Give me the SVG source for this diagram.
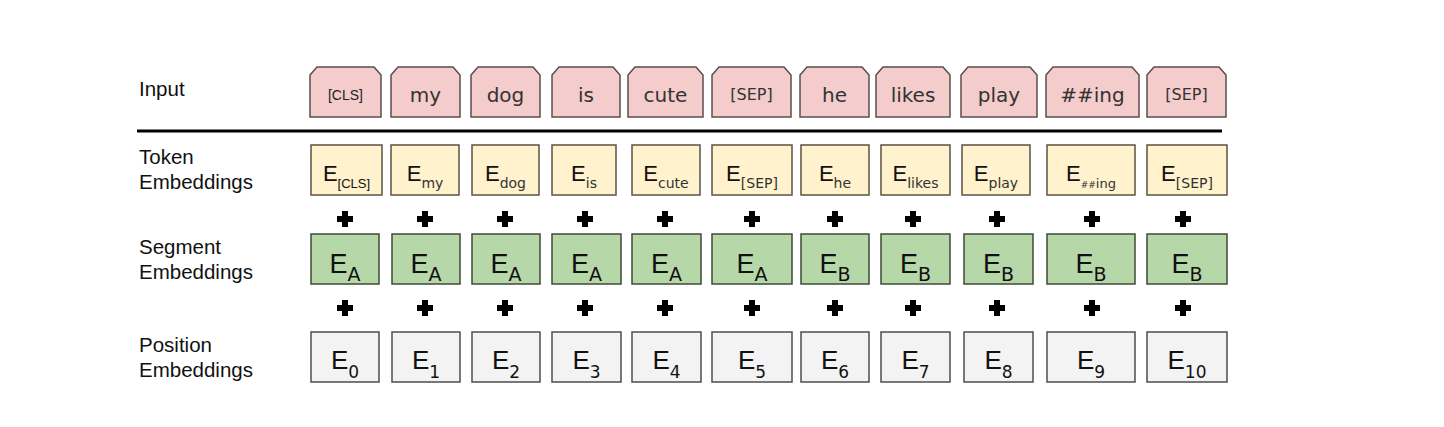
<svg xmlns="http://www.w3.org/2000/svg" width="1444" height="427" viewBox="0 0 1444 427">
<style>
.lbl{font-family:"Liberation Sans",Arial,sans-serif;font-size:20.5px;fill:#111}
.inp{fill:#f4cccc;stroke:#5a4d4d;stroke-width:1.5}
.tok{fill:#fff2cc;stroke:#5a5246;stroke-width:1.5}
.seg{fill:#b6d7a8;stroke:#3d4a38;stroke-width:1.5}
.pos{fill:#f3f3f3;stroke:#4d4d4d;stroke-width:1.5}
.w{font-family:"DejaVu Sans",Verdana,sans-serif;font-size:20px;fill:#333;text-anchor:middle}
.ws{font-family:"DejaVu Sans",Verdana,sans-serif;font-size:16px;fill:#333;text-anchor:middle}
.wc{font-family:"Liberation Sans",Arial,sans-serif;font-size:14px;fill:#222;text-anchor:middle}
.te{font-family:"Liberation Sans",Arial,sans-serif;font-size:22px;fill:#111;text-anchor:middle}
.ts{font-family:"DejaVu Sans",Verdana,sans-serif;font-size:14px;fill:#333}
.tc{font-family:"Liberation Sans",Arial,sans-serif;font-size:13px;fill:#111}
.se{font-family:"Liberation Sans",Arial,sans-serif;font-size:27px;fill:#111;text-anchor:middle}
.ss{font-family:"DejaVu Sans",Verdana,sans-serif;font-size:19px;fill:#111}
.pe{font-family:"Liberation Sans",Arial,sans-serif;font-size:26px;fill:#111;text-anchor:middle}
.ps{font-family:"DejaVu Sans",Verdana,sans-serif;font-size:17px;fill:#111}
</style>
<defs>
<path id="plus" d="M-3,-8h6v5h5v6h-5v5h-6v-5h-5v-6h5z" fill="#000"/>
</defs>
<rect width="1444" height="427" fill="#fff"/>

<g id="labels">
<text class="lbl" x="139" y="96">Input</text>
<text class="lbl" x="139" y="164">Token</text>
<text class="lbl" x="139" y="189">Embeddings</text>
<text class="lbl" x="139" y="254">Segment</text>
<text class="lbl" x="139" y="279">Embeddings</text>
<text class="lbl" x="139" y="352">Position</text>
<text class="lbl" x="139" y="377">Embeddings</text>
</g>

<g id="connectors">
<line x1="137" y1="131" x2="1222" y2="131" stroke="#000" stroke-width="3"/>
<use href="#plus" x="345" y="219"/><use href="#plus" x="425" y="219"/><use href="#plus" x="505" y="219"/><use href="#plus" x="585" y="219"/><use href="#plus" x="665" y="219"/><use href="#plus" x="752" y="219"/><use href="#plus" x="835" y="219"/><use href="#plus" x="913" y="219"/><use href="#plus" x="997" y="219"/><use href="#plus" x="1092" y="219"/><use href="#plus" x="1183" y="219"/>
<use href="#plus" x="345" y="308"/><use href="#plus" x="425" y="308"/><use href="#plus" x="505" y="308"/><use href="#plus" x="585" y="308"/><use href="#plus" x="665" y="308"/><use href="#plus" x="752" y="308"/><use href="#plus" x="835" y="308"/><use href="#plus" x="913" y="308"/><use href="#plus" x="997" y="308"/><use href="#plus" x="1092" y="308"/><use href="#plus" x="1183" y="308"/>
</g>

<!-- Input row -->
<g id="in0"><path class="inp" d="M310,117V75L317,67H374L381,75V117Z"/><text class="wc" x="345.5" y="100">[CLS]</text></g>
<g id="in1"><path class="inp" d="M391,117V75L398,67H453L460,75V117Z"/><text class="w" x="425.5" y="102">my</text></g>
<g id="in2"><path class="inp" d="M471,117V75L478,67H533L540,75V117Z"/><text class="w" x="505.5" y="102">dog</text></g>
<g id="in3"><path class="inp" d="M552,117V75L559,67H613L620,75V117Z"/><text class="w" x="586" y="102">is</text></g>
<g id="in4"><path class="inp" d="M628,117V75L635,67H696L703,75V117Z"/><text class="w" x="665.5" y="102">cute</text></g>
<g id="in5"><path class="inp" d="M712,117V75L719,67H784L791,75V117Z"/><text class="ws" x="751.5" y="100">[SEP]</text></g>
<g id="in6"><path class="inp" d="M800,117V75L807,67H862L869,75V117Z"/><text class="w" x="834.5" y="102">he</text></g>
<g id="in7"><path class="inp" d="M876,117V75L883,67H943L950,75V117Z"/><text class="w" x="913" y="102">likes</text></g>
<g id="in8"><path class="inp" d="M961,117V75L968,67H1030L1037,75V117Z"/><text class="w" x="999" y="102">play</text></g>
<g id="in9"><path class="inp" d="M1046,117V75L1053,67H1132L1139,75V117Z"/><text class="w" x="1092.5" y="102">##ing</text></g>
<g id="in10"><path class="inp" d="M1147,117V75L1154,67H1219L1226,75V117Z"/><text class="ws" x="1186.5" y="100">[SEP]</text></g>

<!-- Token row -->
<g id="tok0"><rect class="tok" x="311" y="145" width="71" height="50"/><text class="te" x="346.5" y="181">E<tspan class="tc" dy="7">[CLS]</tspan></text></g>
<g id="tok1"><rect class="tok" x="391" y="145" width="68" height="50"/><text class="te" x="425" y="181">E<tspan class="ts" dy="7">my</tspan></text></g>
<g id="tok2"><rect class="tok" x="472" y="145" width="67" height="50"/><text class="te" x="505.5" y="181">E<tspan class="ts" dy="7">dog</tspan></text></g>
<g id="tok3"><rect class="tok" x="552" y="145" width="64" height="50"/><text class="te" x="584" y="181">E<tspan class="ts" dy="7">is</tspan></text></g>
<g id="tok4"><rect class="tok" x="632" y="145" width="68" height="50"/><text class="te" x="666" y="181">E<tspan class="ts" dy="7">cute</tspan></text></g>
<g id="tok5"><rect class="tok" x="712" y="145" width="80" height="50"/><text class="te" x="752" y="181">E<tspan class="ts" dy="7">[SEP]</tspan></text></g>
<g id="tok6"><rect class="tok" x="801" y="145" width="68" height="50"/><text class="te" x="835" y="181">E<tspan class="ts" dy="7">he</tspan></text></g>
<g id="tok7"><rect class="tok" x="881" y="145" width="69" height="50"/><text class="te" x="915.5" y="181">E<tspan class="ts" dy="7">likes</tspan></text></g>
<g id="tok8"><rect class="tok" x="962" y="145" width="68" height="50"/><text class="te" x="996" y="181">E<tspan class="ts" dy="7">play</tspan></text></g>
<g id="tok9"><rect class="tok" x="1047" y="145" width="88" height="50"/><text class="te" x="1091" y="181">E<tspan class="ts" style="font-size:9px" dy="7">##</tspan><tspan class="ts" style="font-size:13px">ing</tspan></text></g>
<g id="tok10"><rect class="tok" x="1147" y="145" width="80" height="50"/><text class="te" x="1187" y="181">E<tspan class="ts" dy="7">[SEP]</tspan></text></g>

<!-- Segment row -->
<g id="seg0"><rect class="seg" x="311" y="234" width="68" height="50"/><text class="se" x="345" y="273">E<tspan class="ss" dy="8">A</tspan></text></g>
<g id="seg1"><rect class="seg" x="392" y="234" width="68" height="50"/><text class="se" x="426" y="273">E<tspan class="ss" dy="8">A</tspan></text></g>
<g id="seg2"><rect class="seg" x="472" y="234" width="68" height="50"/><text class="se" x="506" y="273">E<tspan class="ss" dy="8">A</tspan></text></g>
<g id="seg3"><rect class="seg" x="552" y="234" width="69" height="50"/><text class="se" x="586.5" y="273">E<tspan class="ss" dy="8">A</tspan></text></g>
<g id="seg4"><rect class="seg" x="632" y="234" width="69" height="50"/><text class="se" x="666.5" y="273">E<tspan class="ss" dy="8">A</tspan></text></g>
<g id="seg5"><rect class="seg" x="712" y="234" width="80" height="50"/><text class="se" x="752" y="273">E<tspan class="ss" dy="8">A</tspan></text></g>
<g id="seg6"><rect class="seg" x="801" y="234" width="68" height="50"/><text class="se" x="835" y="273">E<tspan class="ss" dy="8">B</tspan></text></g>
<g id="seg7"><rect class="seg" x="881" y="234" width="69" height="50"/><text class="se" x="915.5" y="273">E<tspan class="ss" dy="8">B</tspan></text></g>
<g id="seg8"><rect class="seg" x="964" y="234" width="69" height="50"/><text class="se" x="998.5" y="273">E<tspan class="ss" dy="8">B</tspan></text></g>
<g id="seg9"><rect class="seg" x="1047" y="234" width="88" height="50"/><text class="se" x="1091" y="273">E<tspan class="ss" dy="8">B</tspan></text></g>
<g id="seg10"><rect class="seg" x="1147" y="234" width="80" height="50"/><text class="se" x="1187" y="273">E<tspan class="ss" dy="8">B</tspan></text></g>

<!-- Position row -->
<g id="pos0"><rect class="pos" x="311" y="332" width="68" height="50"/><text class="pe" x="345" y="369">E<tspan class="ps" dy="9">0</tspan></text></g>
<g id="pos1"><rect class="pos" x="392" y="332" width="68" height="50"/><text class="pe" x="426" y="369">E<tspan class="ps" dy="9">1</tspan></text></g>
<g id="pos2"><rect class="pos" x="472" y="332" width="68" height="50"/><text class="pe" x="506" y="369">E<tspan class="ps" dy="9">2</tspan></text></g>
<g id="pos3"><rect class="pos" x="552" y="332" width="69" height="50"/><text class="pe" x="586.5" y="369">E<tspan class="ps" dy="9">3</tspan></text></g>
<g id="pos4"><rect class="pos" x="632" y="332" width="69" height="50"/><text class="pe" x="666.5" y="369">E<tspan class="ps" dy="9">4</tspan></text></g>
<g id="pos5"><rect class="pos" x="712" y="332" width="80" height="50"/><text class="pe" x="752" y="369">E<tspan class="ps" dy="9">5</tspan></text></g>
<g id="pos6"><rect class="pos" x="801" y="332" width="68" height="50"/><text class="pe" x="835" y="369">E<tspan class="ps" dy="9">6</tspan></text></g>
<g id="pos7"><rect class="pos" x="881" y="332" width="69" height="50"/><text class="pe" x="915.5" y="369">E<tspan class="ps" dy="9">7</tspan></text></g>
<g id="pos8"><rect class="pos" x="964" y="332" width="69" height="50"/><text class="pe" x="998.5" y="369">E<tspan class="ps" dy="9">8</tspan></text></g>
<g id="pos9"><rect class="pos" x="1047" y="332" width="88" height="50"/><text class="pe" x="1091" y="369">E<tspan class="ps" dy="9">9</tspan></text></g>
<g id="pos10"><rect class="pos" x="1147" y="332" width="80" height="50"/><text class="pe" x="1187" y="369">E<tspan class="ps" dy="9">10</tspan></text></g>
</svg>
